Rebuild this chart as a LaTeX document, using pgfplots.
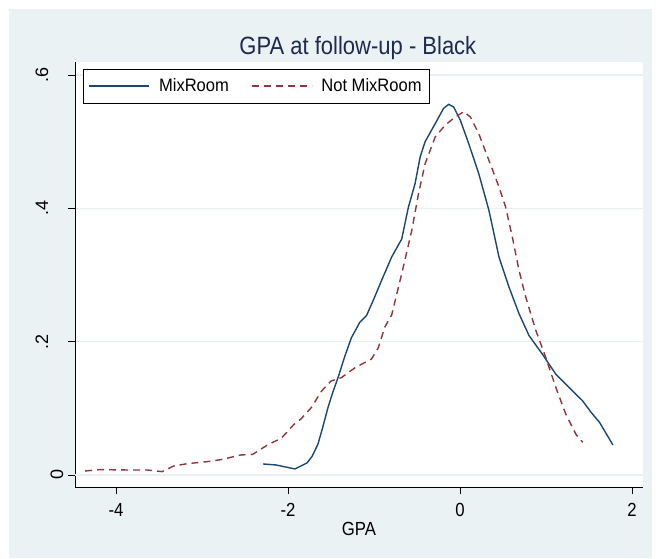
\documentclass[border=0pt]{standalone}
\usepackage{pgfplots}
\pgfplotsset{compat=1.18}
\usepackage{fontspec}
\setmainfont{Liberation Sans}
\usepackage{graphicx}
\definecolor{bgc}{RGB}{234,242,243}
\definecolor{gridc}{RGB}{232,240,242}
\definecolor{pnavy}{RGB}{26,71,111}
\definecolor{pmaroon}{RGB}{144,53,59}
\definecolor{titlec}{RGB}{30,42,80}
\newcommand\sx[1]{\scalebox{0.88}[1]{#1}}
\newcommand\slg[1]{\scalebox{0.92}[1]{#1}}
\begin{document}
\begin{tikzpicture}[x=1pt,y=1pt]
\useasboundingbox (0,0) rectangle (661,558);
\fill[white] (0,0) rectangle (661,558);
\fill[bgc] (9,0) rectangle (652,549);
\begin{axis}[
  at={(75pt,70.7pt)}, anchor=south west, scale only axis,
  width=568pt, height=425.3pt,
  xmin=-4.478, xmax=2.128, ymin=-0.0185, ymax=0.6195,
  axis x line*=bottom, axis y line*=left,
  axis line style={black, line width=0.9pt},
  axis background/.style={fill=white},
  tick align=outside, major tick length=7pt,
  tick style={black, line width=0.9pt},
  xtick={-4,-2,0,2}, xticklabels={\sx{-4},\sx{-2},\sx{0},\sx{2}},
  ytick={0.2,0.4,0.6}, yticklabels={.2,.4,.6},
  extra y ticks={0}, extra y tick labels={0},
  extra y tick style={grid=major, yticklabel style={yshift=-15pt}},
  ymajorgrids, xmajorgrids=false,
  major grid style={gridc, line width=1.3pt},
  xticklabel style={font=\fontsize{19}{21}\selectfont, anchor=north, inner sep=0pt, yshift=-9pt},
  yticklabel style={font=\fontsize{18}{20}\selectfont, rotate=90, anchor=base, inner sep=0pt, yshift=20pt},
  xlabel={\sx{GPA}},
  xlabel style={font=\fontsize{19}{21}\selectfont, at={(axis description cs:0.5,-0.081)}, anchor=north, inner sep=0pt},
  title={\scalebox{0.88}[1]{GPA at follow-up - Black}},
  title style={font=\fontsize{25}{28}\selectfont, text=titlec, at={(axis description cs:0.498,1.004)}, anchor=base, inner sep=0pt},
  legend columns=2,
  legend cell align=left,
  legend image code/.code={\draw[#1] (0pt,0pt) -- (60pt,0pt);},
  legend style={at={(axis description cs:0.0145,0.9835)}, anchor=north west,
    draw=black, line width=0.8pt, fill=white,
    font=\fontsize{18}{20}\selectfont,
    inner xsep=5pt, inner ysep=6.5pt,
    nodes={inner sep=3pt},
    /tikz/every odd column/.append style={column sep=6pt},
    /tikz/every even column/.append style={column sep=19pt}},
]
\addplot[pnavy, line width=1.4pt] coordinates {
(-2.29,0.0165) (-2.14,0.015) (-2.03,0.012) (-1.92,0.009) (-1.78,0.018)
(-1.72,0.028) (-1.653,0.046) (-1.60,0.070) (-1.536,0.101) (-1.48,0.124)
(-1.419,0.146) (-1.34,0.178) (-1.263,0.206) (-1.166,0.229) (-1.088,0.239)
(-1.009,0.262) (-0.912,0.292) (-0.795,0.327) (-0.678,0.354) (-0.6,0.402)
(-0.523,0.437) (-0.464,0.477) (-0.406,0.500) (-0.289,0.527) (-0.191,0.550)
(-0.132,0.556) (-0.074,0.552) (0.004,0.532) (0.101,0.497) (0.218,0.452)
(0.336,0.397) (0.453,0.327) (0.569,0.282) (0.686,0.242) (0.803,0.209)
(0.959,0.181) (1.115,0.151) (1.271,0.131) (1.427,0.111) (1.524,0.094)
(1.622,0.079) (1.778,0.045)
};
\addlegendentry{\slg{MixRoom}}
\addplot[pmaroon, line width=1.4pt, dash pattern=on 7pt off 5pt] coordinates {
(-4.36,0.006) (-4.19,0.008) (-3.875,0.0075) (-3.64,0.0075) (-3.466,0.005)
(-3.33,0.0135) (-3.17,0.017) (-2.94,0.020) (-2.78,0.023) (-2.55,0.030)
(-2.41,0.031) (-2.24,0.045) (-2.08,0.055) (-1.93,0.076) (-1.85,0.084)
(-1.73,0.101) (-1.61,0.126) (-1.50,0.141) (-1.38,0.146) (-1.22,0.161)
(-1.03,0.174) (-0.95,0.191) (-0.874,0.222) (-0.795,0.240) (-0.678,0.302)
(-0.561,0.367) (-0.483,0.422) (-0.406,0.467) (-0.289,0.507) (-0.172,0.525)
(-0.055,0.537) (0.043,0.545) (0.121,0.537) (0.218,0.512) (0.336,0.472)
(0.453,0.432) (0.53,0.402) (0.608,0.357) (0.686,0.307) (0.764,0.267)
(0.881,0.217) (0.998,0.176) (1.115,0.131) (1.231,0.091) (1.348,0.061)
(1.427,0.049)
};
\addlegendentry{\slg{Not MixRoom}}
\end{axis}
\end{tikzpicture}
\end{document}
